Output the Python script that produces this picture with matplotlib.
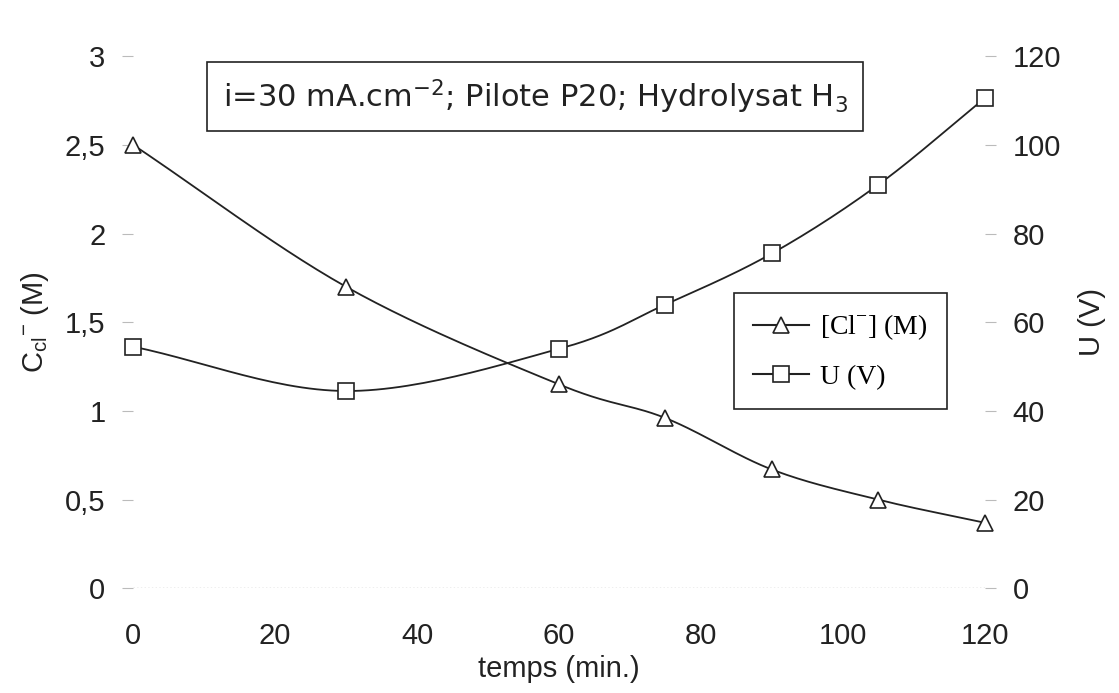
import numpy as np
import matplotlib.pyplot as plt

temps = [0, 30, 60, 75, 90, 105, 120]
chlorure = [2.5, 1.70, 1.15, 0.96, 0.67, 0.50, 0.37]
tension = [54.5, 44.5, 54.0, 64.0, 75.5, 91.0, 110.5]

x_ticks = [0, 20, 40, 60, 80, 100, 120]
y_left_ticks = [0, 0.5, 1, 1.5, 2, 2.5, 3]
y_left_labels = ['0', '0,5', '1', '1,5', '2', '2,5', '3']
y_right_ticks = [0, 20, 40, 60, 80, 100, 120]


def lissage(x, y, n=30):
    # courbe lissee type Catmull-Rom (comme le "lissage" d'Excel)
    x = np.asarray(x, float)
    y = np.asarray(y, float)
    px = np.concatenate([[2 * x[0] - x[1]], x, [2 * x[-1] - x[-2]]])
    py = np.concatenate([[2 * y[0] - y[1]], y, [2 * y[-1] - y[-2]]])
    xs, ys = [], []
    t = np.linspace(0, 1, n)
    for i in range(1, len(px) - 2):
        for p, out in ((px, xs), (py, ys)):
            p0, p1, p2, p3 = p[i - 1], p[i], p[i + 1], p[i + 2]
            out.extend(0.5 * (2 * p1 + (-p0 + p2) * t
                              + (2 * p0 - 5 * p1 + 4 * p2 - p3) * t ** 2
                              + (-p0 + 3 * p1 - 3 * p2 + p3) * t ** 3))
    return xs, ys


plt.rcParams['font.family'] = ['Liberation Sans', 'DejaVu Sans']
fs = 21

fig = plt.figure(figsize=(11.19, 6.93), dpi=100)
ax = fig.add_axes([0.119, 0.151, 0.761, 0.768])
ax2 = ax.twinx()

xs, ys = lissage(temps, chlorure)
ax.plot(xs, ys, color='#222222', lw=1.3)
l1, = ax.plot(temps, chlorure, ls='none', marker='^', ms=11, mfc='white',
              mec='#222222', mew=1.2, clip_on=False, zorder=5)
xs, ys = lissage(temps, tension)
ax2.plot(xs, ys, color='#222222', lw=1.3)
l2, = ax2.plot(temps, tension, ls='none', marker='s', ms=11, mfc='white',
               mec='#222222', mew=1.2, clip_on=False, zorder=5)

ax.set_xlim(0, 120)
ax.set_ylim(0, 3)
ax2.set_ylim(0, 120)
ax.set_xticks(x_ticks)
ax.set_yticks(y_left_ticks)
ax.set_yticklabels(y_left_labels)
ax2.set_yticks(y_right_ticks)

for a in (ax, ax2):
    for s in a.spines.values():
        s.set_visible(False)
    a.tick_params(labelsize=fs, colors='#bbbbbb', labelcolor='#222222',
                  length=8, width=0.8, pad=12)
ax.tick_params(axis='x', length=0, pad=24)
ax.axhline(0, color='#aaaaaa', lw=1, ls=':')

ax.set_xlabel('temps (min.)', fontsize=fs, color='#222222', labelpad=4)
ax.set_ylabel(r'C$_{\mathregular{cl}}$$^{\mathregular{-}}$ (M)', fontsize=fs,
              color='#222222', labelpad=10)
ax2.set_ylabel('U (V)', fontsize=fs, color='#222222', labelpad=12)

ax.text(0.472, 0.924,
        r'i=30 mA.cm$^{\mathregular{-2}}$; Pilote P20; Hydrolysat H$_{\mathregular{3}}$',
        transform=ax.transAxes, ha='center', va='center', fontsize=22,
        family=['DejaVu Sans'], color='#222222',
        bbox=dict(boxstyle='square,pad=0.5', fc='white', ec='#222222', lw=1.2))

leg = ax2.legend([l1, l2], ['[Cl$^{\\mathregular{-}}$] (M)', 'U (V)'],
                 loc='upper left', bbox_to_anchor=(0.705, 0.555),
                 prop={'family': 'Liberation Serif', 'size': 20},
                 handlelength=2.0, handletextpad=0.4, fancybox=False,
                 framealpha=1, edgecolor='#222222', borderpad=0.7,
                 labelspacing=0.8, borderaxespad=0)
leg.get_frame().set_linewidth(1.2)
for h in leg.legend_handles:
    h.set_linestyle('-')
    h.set_color('#222222')
    h.set_markerfacecolor('white')
    h.set_markersize(11)

fig.savefig('out.png', dpi=100)
